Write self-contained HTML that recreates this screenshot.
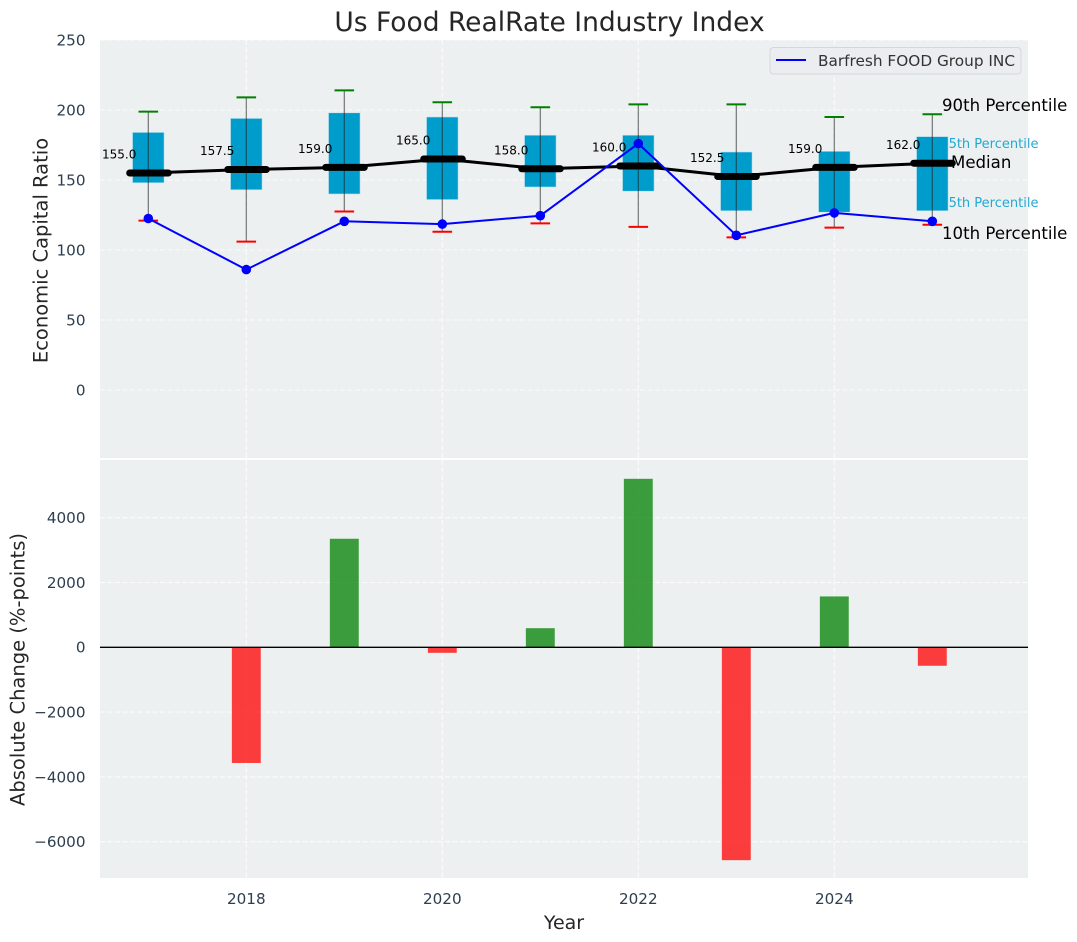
<!DOCTYPE html>
<html lang="en">
<head>
<meta charset="utf-8">
<title>Us Food RealRate Industry Index</title>
<style>
html,body{margin:0;padding:0;background:#fff;}
svg{display:block;font-family:"DejaVu Sans","Liberation Sans",sans-serif;}
</style>
</head>
<body>
<svg id="chart" width="1077" height="942" viewBox="0 0 1077 942" xmlns="http://www.w3.org/2000/svg">
  <defs>
    <clipPath id="clip-bottom"><rect x="100" y="460" width="928" height="418"/></clipPath>
  </defs>
  <rect x="100" y="40" width="928" height="418" fill="#ecf0f1"/>
  <rect x="100" y="460" width="928" height="418" fill="#ecf0f1"/>
  <g id="grid"></g>
  <g id="top-marks"></g>
  <g id="bottom-marks" clip-path="url(#clip-bottom)"></g>
  <g id="overlay"></g>
  <g id="ticks" font-size="15.2" fill="#2c3e50"></g>
  <text x="549.5" y="31" font-size="26.5" text-anchor="middle" fill="#262626">Us Food RealRate Industry Index</text>
  <text transform="translate(47.5,250.5) rotate(-90)" font-size="19.5" text-anchor="middle" fill="#262626">Economic Capital Ratio</text>
  <text transform="translate(24.5,669.5) rotate(-90)" font-size="19.5" text-anchor="middle" fill="#262626">Absolute Change (%-points)</text>
  <text x="564" y="929" font-size="19" text-anchor="middle" fill="#262626">Year</text>
  <g>
    <rect x="770" y="47.5" width="251" height="26.5" rx="3.5" fill="#ebedf1" stroke="#d6d6d6" stroke-width="1"/>
    <line x1="776" y1="60" x2="806" y2="60" stroke="#0000ff" stroke-width="2"/>
    <text x="818" y="66" font-size="15.3" fill="#333333">Barfresh FOOD Group INC</text>
  </g>
</svg>
<script>
const years = [2017, 2018, 2019, 2020, 2021, 2022, 2023, 2024, 2025];
const p90 = [198.8, 209, 214, 205.5, 202, 204, 204, 195, 197];
const p75 = [184, 194, 198, 195, 182, 182, 170, 170.5, 181];
const medians = [155, 157.5, 159, 165, 158, 160, 152.5, 159, 162];
const p25 = [148, 143, 140, 136, 145, 142, 128, 127, 128];
const p10 = [121, 106, 127.5, 113, 119, 116.5, 109, 116, 118];
const company = [122.5, 86, 120.5, 118.5, 124.5, 176, 110.5, 126.5, 120.5];
const changes = [0, -3570, 3350, -170, 590, 5200, -6570, 1570, -570];
const xTicks = [2018, 2020, 2022, 2024];
const topTicks = [0, 50, 100, 150, 200, 250];
const bottomTicks = [-6000, -4000, -2000, 0, 2000, 4000];

const NS = 'http://www.w3.org/2000/svg';
const xScale = function (year) { return 148.3 + 98 * (year - 2017); };
const yTop = function (v) { return 390 - 1.4 * v; };
const yBottom = function (v) { return 647.3 - 0.0324 * v; };
const xUnit = xScale(1) - xScale(0);

function mk(parent, tag, attrs, text) {
  const el = document.createElementNS(NS, tag);
  for (const k in attrs) el.setAttribute(k, attrs[k]);
  if (text !== undefined) el.textContent = text;
  parent.appendChild(el);
  return el;
}
function fmtTick(v) { return v < 0 ? '\u2212' + Math.abs(v) : String(v); }

const grid = document.getElementById('grid');
const top_ = document.getElementById('top-marks');
const bottom = document.getElementById('bottom-marks');
const overlay = document.getElementById('overlay');
const ticks = document.getElementById('ticks');
const gridStyle = { stroke: '#ffffff', 'stroke-width': 1.1, 'stroke-dasharray': '5 2.5', opacity: 0.85 };

xTicks.forEach(function (t) {
  const x = xScale(t);
  const g1 = mk(grid, 'line', Object.assign({ x1: x, x2: x, y1: 40, y2: 458 }, gridStyle));
  
  
  const g2 = mk(grid, 'line', Object.assign({ x1: x, x2: x, y1: 460, y2: 878 }, gridStyle));
  
  
  const lab = mk(ticks, 'text', { x: x, y: 904, 'text-anchor': 'middle' }, String(t));
  
  
});
topTicks.forEach(function (t) {
  const y = yTop(t);
  const g = mk(grid, 'line', Object.assign({ x1: 100, x2: 1028, y1: y, y2: y }, gridStyle));
  
  
  const lab = mk(ticks, 'text', { x: 85.5, y: y + 5.4, 'text-anchor': 'end' }, fmtTick(t));
  
  
});
bottomTicks.forEach(function (t) {
  const y = yBottom(t);
  const g = mk(grid, 'line', Object.assign({ x1: 100, x2: 1028, y1: y, y2: y }, gridStyle));
  
  
  const lab = mk(ticks, 'text', { x: 85.5, y: y + 5.4, 'text-anchor': 'end' }, fmtTick(t));
  
  
});

/* percentile key labels sit underneath the last box */
const last = years.length - 1;
const lx = xScale(years[last]);
const a75 = mk(top_, 'text', { x: lx + 8, y: yTop(p75[last]) + 11.5, 'font-size': 13, fill: '#009ccc', opacity: 0.85 }, '75th Percentile');


const a25 = mk(top_, 'text', { x: lx + 8, y: yTop(p25[last]) - 3.7, 'font-size': 13, fill: '#009ccc', opacity: 0.85 }, '25th Percentile');



/* percentile boxes */
const boxW = 0.322 * xUnit, capW = 0.2 * xUnit;
years.forEach(function (yr, i) {
  const x = xScale(yr);
  const box = mk(top_, 'rect', {
    x: x - boxW / 2, y: yTop(p75[i]), width: boxW, height: yTop(p25[i]) - yTop(p75[i]),
    fill: '#009ccc', stroke: '#bfe3ee', 'stroke-width': 0.6
  });
  
  
  const w = mk(top_, 'line', {
    x1: x, x2: x, y1: yTop(p90[i]), y2: yTop(p10[i]),
    stroke: '#222222', 'stroke-width': 1.2, opacity: 0.6
  });
  
  
  const capHi = mk(top_, 'line', {
    x1: x - capW / 2, x2: x + capW / 2, y1: yTop(p90[i]), y2: yTop(p90[i]),
    stroke: '#008000', 'stroke-width': 2
  });
  
  
  const capLo = mk(top_, 'line', {
    x1: x - capW / 2, x2: x + capW / 2, y1: yTop(p10[i]), y2: yTop(p10[i]),
    stroke: '#ff0000', 'stroke-width': 2
  });
  
  
});

/* median connecting line */
const medLine = mk(top_, 'polyline', {
  points: years.map(function (yr, i) { return xScale(yr) + ',' + yTop(medians[i]); }).join(' '),
  fill: 'none', stroke: '#000000', 'stroke-width': 3, 'stroke-linejoin': 'round'
});



/* median bars and value labels */
years.forEach(function (yr, i) {
  const x = xScale(yr), y = yTop(medians[i]);
  const m = mk(top_, 'line', {
    x1: x - 18.6, x2: x + 20, y1: y, y2: y,
    stroke: '#000000', 'stroke-width': 7, 'stroke-linecap': 'round'
  });
  
  
  const lab = mk(top_, 'text', { x: x - 46.3, y: y - 14.3, 'font-size': 12, fill: '#000000' }, medians[i].toFixed(1));
  
  
});

/* company line */
const coLine = mk(top_, 'polyline', {
  points: years.map(function (yr, i) { return xScale(yr) + ',' + yTop(company[i]); }).join(' '),
  fill: 'none', stroke: '#0000ff', 'stroke-width': 2, 'stroke-linejoin': 'round'
});


years.forEach(function (yr, i) {
  const c = mk(top_, 'circle', { cx: xScale(yr), cy: yTop(company[i]), r: 4.8, fill: '#0000ff' });
  
  
});

/* change bars */
const barW = 0.295 * xUnit;
changes.forEach(function (v, i) {
  if (v === 0) return;
  const x = xScale(years[i]);
  const y0 = yBottom(0), y1 = yBottom(v);
  const b = mk(bottom, 'rect', {
    x: x - barW / 2, y: Math.min(y0, y1), width: barW, height: Math.abs(y1 - y0),
    fill: v >= 0 ? '#008000' : '#ff0000', opacity: 0.75
  });
  
  
});
const zero = mk(bottom, 'line', { x1: 100, x2: 1028, y1: yBottom(0), y2: yBottom(0), stroke: '#000000', 'stroke-width': 1.3 });



/* percentile key annotations next to last box */
const a90 = mk(overlay, 'text', { x: lx + 9.7, y: yTop(p90[last]) - 3, 'font-size': 16.6, fill: '#000000' }, '90th Percentile');


const a10 = mk(overlay, 'text', { x: lx + 9.7, y: yTop(p10[last]) + 14, 'font-size': 16.6, fill: '#000000' }, '10th Percentile');


const aMed = mk(overlay, 'text', { x: lx + 18.7, y: yTop(medians[last]) + 5, 'font-size': 16.6, fill: '#000000' }, 'Median');


</script>
</body>
</html>
